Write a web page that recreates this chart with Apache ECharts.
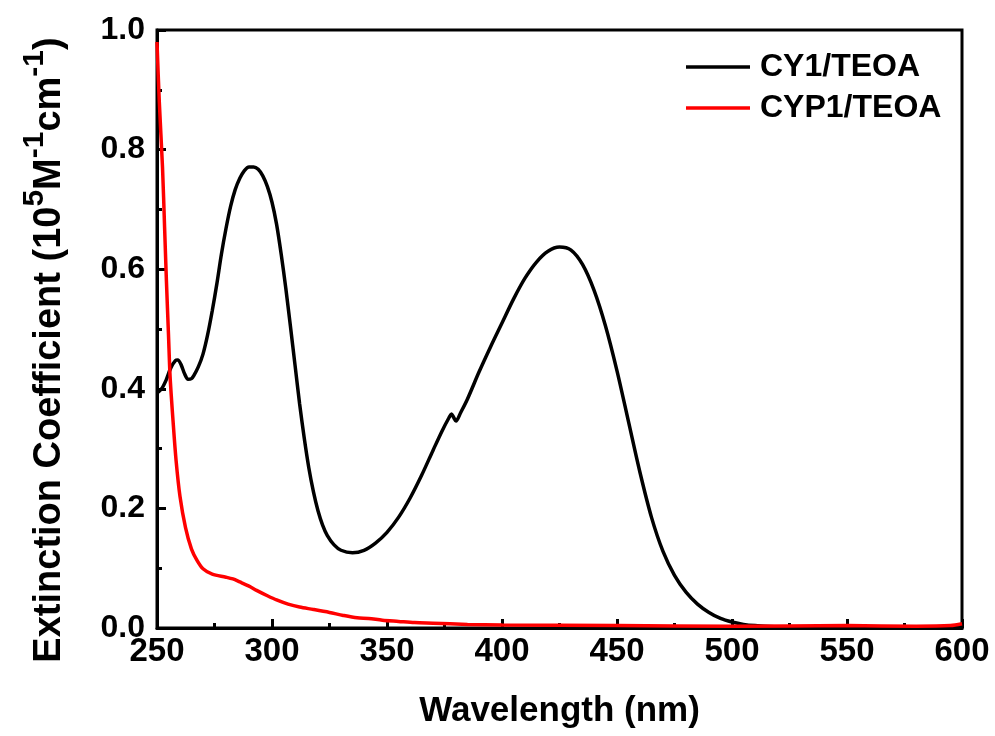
<!DOCTYPE html>
<html>
<head>
<meta charset="utf-8">
<script src="https://cdn.jsdelivr.net/npm/echarts@6/dist/echarts.min.js"></script>
<style>html,body{margin:0;padding:0;background:#fff}#c{width:995px;height:736px}</style>
</head>
<body>
<div id="c"></div>
<script>
const seriesNames = ['CY1/TEOA', 'CYP1/TEOA'];
const cy1X = [250,252,254,256,258,259,260.5,262,263.5,265,266,268,270,272,274,276,278,280,282,284,286,288,290,292,294,296,298,300,302,304,306,308,310,312,314,316,318,320,322,324,327,330,335,340,345,350,355,360,365,370,374,377,378,379,380,382,385,390,395,400,405,410,415,420,425,430,435,440,445,450,455,460,465,470,475,480,485,490,495,500,505,510,520,540,560,580,600];
const cy1Y = [0.393,0.40,0.415,0.435,0.447,0.448,0.44,0.425,0.416,0.417,0.422,0.437,0.458,0.49,0.53,0.575,0.625,0.668,0.705,0.733,0.752,0.765,0.771,0.771,0.767,0.756,0.738,0.712,0.675,0.625,0.568,0.505,0.44,0.375,0.318,0.268,0.228,0.196,0.172,0.155,0.139,0.13,0.126,0.13,0.142,0.16,0.185,0.217,0.255,0.297,0.33,0.352,0.358,0.352,0.346,0.36,0.383,0.428,0.47,0.51,0.55,0.585,0.612,0.63,0.637,0.632,0.608,0.565,0.505,0.43,0.345,0.26,0.185,0.128,0.088,0.06,0.04,0.026,0.016,0.01,0.006,0.004,0.002,0.002,0.002,0.002,0.002];
const cyp1X = [250,251,252.4,253.3,254.1,255,255.7,257,258.3,260,262.4,265,267.4,270,274,280,283,286,290,293.3,298,302,307,312,318,325,331,337,342,348,355,362,370,385,400,450,500,550,580,595,600];
const cyp1Y = [0.98,0.88,0.77,0.67,0.58,0.49,0.42,0.345,0.28,0.22,0.168,0.132,0.113,0.099,0.09,0.085,0.082,0.077,0.07,0.063,0.054,0.047,0.04,0.035,0.031,0.026,0.021,0.017,0.016,0.013,0.011,0.009,0.008,0.006,0.005,0.004,0.003,0.004,0.003,0.004,0.007];
const xTicks = [250,300,350,400,450,500,550,600];
const yTicks = [0.0,0.2,0.4,0.6,0.8,1.0];

const FONT = '"Liberation Sans", Arial, sans-serif';
const zip = (xs, ys) => xs.map((x, i) => [x, ys[i]]);
const chart = echarts.init(document.getElementById('c'));
chart.setOption({
  animation: false,
  backgroundColor: '#fff',
  grid: { left: 157, right: 33, top: 30, bottom: 108, show: true, borderColor: '#000', borderWidth: 3, backgroundColor: 'transparent' },
  legend: {
    orient: 'vertical', left: 681, top: 46, itemWidth: 64, itemHeight: 3.5, itemGap: 9,
    icon: 'rect',
    data: seriesNames,
    textStyle: { fontFamily: FONT, fontWeight: 'bold', fontSize: 32, lineHeight: 32, color: '#000', padding: [0,0,0,5] }
  },
  graphic: [{
    type: 'text', x: 50, y: 350, rotation: Math.PI / 2,
    style: {
      text: '{n|Extinction Coefficient (10}{s|5}{n|M}{s|-1}{n|cm}{s|-1}{n|)}',
      align: 'center', verticalAlign: 'middle',
      rich: {
        n: { fontFamily: FONT, fontWeight: 'bold', fontSize: 38, lineHeight: 60, fill: '#000' },
        s: { fontFamily: FONT, fontWeight: 'bold', fontSize: 30, lineHeight: 24, fill: '#000', verticalAlign: 'top' }
      }
    }
  }],
  xAxis: {
    type: 'value', min: 250, max: 600, interval: 50,
    axisLine: { show: true, lineStyle: { color: '#000', width: 3 } },
    axisTick: { show: true, inside: true, length: 9, lineStyle: { width: 3, color: '#000' } },
    minorTick: { show: true, splitNumber: 2, length: 5, lineStyle: { width: 3, color: '#000' } },
    splitLine: { show: false },
    axisLabel: { margin: 7, fontFamily: FONT, fontWeight: 'bold', fontSize: 33, color: '#000',
      formatter: v => xTicks.includes(v) ? String(v) : '' },
    name: 'Wavelength (nm)', nameLocation: 'middle', nameGap: 66,
    nameTextStyle: { fontFamily: FONT, fontWeight: 'bold', fontSize: 35, color: '#000' }
  },
  yAxis: {
    type: 'value', min: 0, max: 1, interval: 0.2,
    axisLine: { show: true, lineStyle: { color: '#000', width: 3 } },
    axisTick: { show: true, inside: true, length: 9, lineStyle: { width: 3, color: '#000' } },
    minorTick: { show: true, splitNumber: 2, length: 5, lineStyle: { width: 3, color: '#000' } },
    splitLine: { show: false },
    axisLabel: { margin: 12, fontFamily: FONT, fontWeight: 'bold', fontSize: 32, color: '#000',
      formatter: v => yTicks.some(t => Math.abs(t - v) < 1e-9) ? v.toFixed(1) : '' }
  },
  series: [
    { name: seriesNames[0], type: 'line', data: zip(cy1X, cy1Y), symbol: 'none', smooth: 0.3,
      lineStyle: { color: '#000', width: 3.5 }, itemStyle: { color: '#000' } },
    { name: seriesNames[1], type: 'line', data: zip(cyp1X, cyp1Y), symbol: 'none', smooth: 0.3,
      lineStyle: { color: '#ff0000', width: 3.5 }, itemStyle: { color: '#ff0000' } }
  ]
});
</script>
</body>
</html>
